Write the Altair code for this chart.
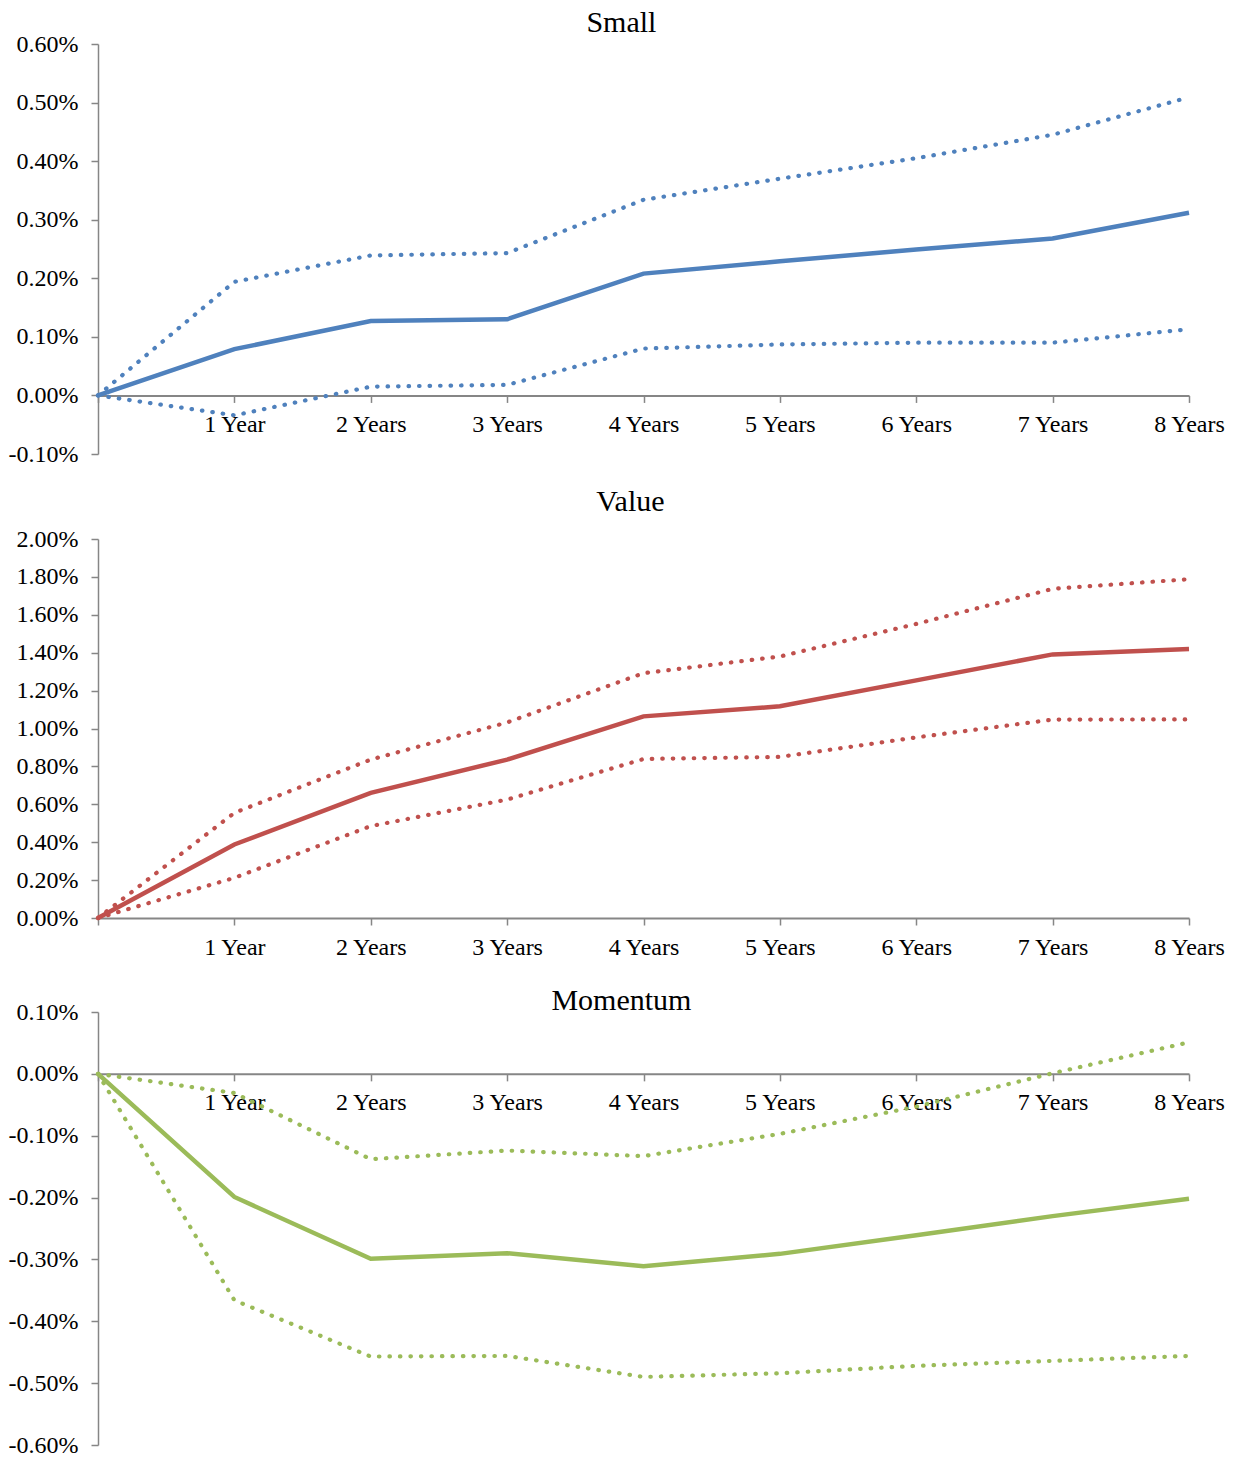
import altair as alt
import pandas as pd

periods = ["", "1 Year", "2 Years", "3 Years", "4 Years", "5 Years", "6 Years", "7 Years", "8 Years"]

# values in percent
small_mid = [0.0, 0.079, 0.127, 0.130, 0.208, 0.229, 0.249, 0.268, 0.312]
small_hi = [0.0, 0.194, 0.239, 0.243, 0.334, 0.370, 0.405, 0.445, 0.509]
small_lo = [0.0, -0.034, 0.015, 0.018, 0.080, 0.087, 0.090, 0.090, 0.113]

value_mid = [0.0, 0.388, 0.660, 0.836, 1.064, 1.117, 1.254, 1.391, 1.419]
value_hi = [0.0, 0.555, 0.836, 1.032, 1.292, 1.380, 1.552, 1.737, 1.788]
value_lo = [0.0, 0.212, 0.485, 0.625, 0.839, 0.850, 0.953, 1.047, 1.048]

mom_mid = [0.0, -0.199, -0.299, -0.290, -0.311, -0.291, -0.261, -0.230, -0.202]
mom_hi = [0.0, -0.031, -0.138, -0.124, -0.133, -0.097, -0.053, 0.001, 0.051]
mom_lo = [0.0, -0.366, -0.457, -0.456, -0.490, -0.484, -0.472, -0.464, -0.456]

FONT = "Liberation Serif"
W = 1091
AXIS_GREY = "#868686"


def long_df(mid, hi, lo):
    rows = []
    for name, vals in [("mid", mid), ("hi", hi), ("lo", lo)]:
        for p, v in zip(periods, vals):
            rows.append({"period": p, "band": name, "v": v / 100})
    return pd.DataFrame(rows)


def panel(title, mid, hi, lo, color, ymin, ymax, step, height, title_offset, title_dx):
    df = long_df(mid, hi, lo)
    ticks = [round(ymin + i * step, 5) for i in range(int(round((ymax - ymin) / step)) + 1)]
    # x axis crosses at zero
    zero_off = -(0 - ymin) / (ymax - ymin) * height
    x = alt.X("period:N", sort=periods, title=None,
              scale=alt.Scale(type="point", padding=0),
              axis=alt.Axis(offset=zero_off, labelAngle=0, labelFontSize=24,
                            labelPadding=10, tickSize=7, domainColor=AXIS_GREY,
                            tickColor=AXIS_GREY, domainWidth=2, tickWidth=1.5,
                            labelColor="black", labelFont=FONT, grid=False))
    y = alt.Y("v:Q", title=None,
              scale=alt.Scale(domain=[ymin / 100, ymax / 100], nice=False, zero=False),
              axis=alt.Axis(values=[t / 100 for t in ticks],
                            labelExpr="(datum.value < -0.0000001 ? '-' : '') + format(abs(datum.value), '.2%')",
                            labelFontSize=24, labelPadding=13, tickSize=7,
                            domainColor=AXIS_GREY, tickColor=AXIS_GREY,
                            domainWidth=1.5, tickWidth=1.5,
                            labelColor="black", labelFont=FONT, grid=False))
    base = alt.Chart(df)
    dotted = base.transform_filter(alt.datum.band != "mid").mark_line(
        color=color, strokeWidth=4.2, strokeDash=[0.5, 10], strokeCap="round"
    ).encode(x=x, y=y, detail="band:N")
    solid = base.transform_filter(alt.datum.band == "mid").mark_line(
        color=color, strokeWidth=4.5
    ).encode(x=x, y=y)
    return alt.layer(dotted, solid).properties(
        width=W, height=height,
        title=alt.Title(title, fontSize=30, font=FONT, fontWeight="normal",
                        color="black", anchor="middle", frame="bounds",
                        offset=title_offset, dx=title_dx),
    )


small = panel("Small", small_mid, small_hi, small_lo, "#4F81BD", -0.1, 0.6, 0.1, 410, -6, 5)
value = panel("Value", value_mid, value_hi, value_lo, "#C0504D", 0.0, 2.0, 0.2, 379, 10, 10)
mom = panel("Momentum", mom_mid, mom_hi, mom_lo, "#9BBB59", -0.6, 0.1, 0.1, 433, -16, 5)

chart = (
    alt.vconcat(alt.vconcat(small, value, spacing=21), mom, spacing=27)
    .configure_view(strokeWidth=0)
    .properties(padding=0, background="white")
)

chart.save("out.html", embed_options={"renderer": "svg", "actions": False})
